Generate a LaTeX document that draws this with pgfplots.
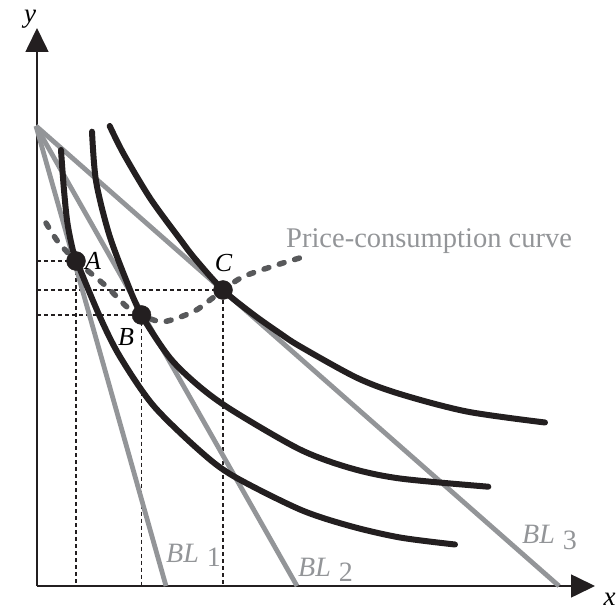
\documentclass[border=0pt]{standalone}
\usepackage{fontspec}
\setmainfont{Liberation Serif}
\usepackage{pgfplots}
\pgfplotsset{compat=1.18}
\usetikzlibrary{arrows.meta}

\definecolor{ink}{HTML}{231F20}
\definecolor{blgray}{HTML}{939598}
\definecolor{pccgray}{HTML}{58595B}

\begin{document}
\begin{tikzpicture}
\useasboundingbox (-37pt,-25pt) rectangle (579pt,586pt);
\begin{axis}[
    scale only axis,
    width=558pt, height=558pt,
    xmin=0, xmax=558, ymin=0, ymax=558,
    axis lines=left,
    axis line style={ink, line width=1.6pt, -{Triangle[length=24pt,width=23pt]}},
    xtick=\empty, ytick=\empty,
    clip=false,
]
% dashed guides to the axes
\addplot[ink, line width=1.3pt, dash pattern=on 4pt off 3pt] coordinates {(0,325) (39,325) (39,0)};
\addplot[ink, line width=1.3pt, dash pattern=on 4pt off 3pt] coordinates {(0,271) (104.5,271) (104.5,0)};
\addplot[ink, line width=1.3pt, dash pattern=on 4pt off 3pt] coordinates {(0,296) (186,296) (186,0)};

% budget lines
\addplot[blgray, line width=4.8pt] coordinates {(-1,460) (129,0)};
\addplot[blgray, line width=4.8pt] coordinates {(-1,460) (260,0)};
\addplot[blgray, line width=4.8pt] coordinates {(-1,460) (522,0)};

% indifference curves
\addplot[ink, line width=6pt, smooth, line cap=round] coordinates {
    (24,436) (26.7,399.3) (30,366) (34.3,342.7) (39.3,326) (63,269) (83,229.3)
    (116.3,180.5) (163,135) (196.3,110) (263,76.5) (313,60) (363,48.5) (418,41.5)};
\addplot[ink, line width=6pt, smooth, line cap=round] coordinates {
    (55,454.3) (59,405) (71.7,353) (88.3,308) (104.5,271) (133,228) (163,199)
    (196.3,175) (263,136.5) (313,118) (363,107.5) (451.3,99.3)};
\addplot[ink, line width=6pt, smooth, line cap=round] coordinates {
    (72.7,460) (86.7,432) (113.3,387.5) (143.3,346.5) (158,327.3) (186,296)
    (216.3,271.5) (243,252.6) (263,239.6) (319.7,208.3) (363,192) (429.7,174.5) (508,163.5)};

% price-consumption curve
\addplot[pccgray, line width=5.5pt, smooth, line cap=round, dash pattern=on 5pt off 11pt] coordinates {
    (9,363) (19.7,346) (31.3,332.7) (39,325) (69.7,299.3) (89.7,279.3) (104.5,271)
    (126.3,264.3) (156.3,274.3) (173,286) (186,296) (206.3,309.3) (239.7,321) (266,329)};

% optimum points
\addplot[only marks, mark=*, mark size=9.5pt, ink] coordinates {(39,325) (104.5,271) (186,296)};

% labels
\node[inner sep=0pt, font=\fontsize{26}{28}\selectfont\itshape] at (axis cs:56,325) {A};
\node[inner sep=0pt, font=\fontsize{26}{28}\selectfont\itshape] at (axis cs:89,248.5) {B};
\node[inner sep=0pt, font=\fontsize{26}{28}\selectfont\itshape] at (axis cs:186.5,322.5) {C};
\node[inner sep=0pt, anchor=base west, text=blgray, font=\fontsize{28.5}{30}\selectfont] at (axis cs:249,338) {Price-consumption curve};
\node[inner sep=0pt, anchor=base west, text=blgray, font=\fontsize{28}{30}\selectfont] at (axis cs:129,24) {\textit{BL}\hspace{8pt}\raisebox{-4pt}{1}};
\node[inner sep=0pt, anchor=base west, text=blgray, font=\fontsize{28}{30}\selectfont] at (axis cs:261,10) {\textit{BL}\hspace{8pt}\raisebox{-5pt}{2}};
\node[inner sep=0pt, anchor=base west, text=blgray, font=\fontsize{28}{30}\selectfont] at (axis cs:485,42.7) {\textit{BL}\hspace{8pt}\raisebox{-6pt}{3}};
\node[inner sep=0pt, font=\fontsize{27}{29}\selectfont\itshape] at (axis cs:-7,567) {y};
\node[inner sep=0pt, font=\fontsize{27}{29}\selectfont\itshape] at (axis cs:572.5,-13) {x};
\end{axis}
\end{tikzpicture}
\end{document}
